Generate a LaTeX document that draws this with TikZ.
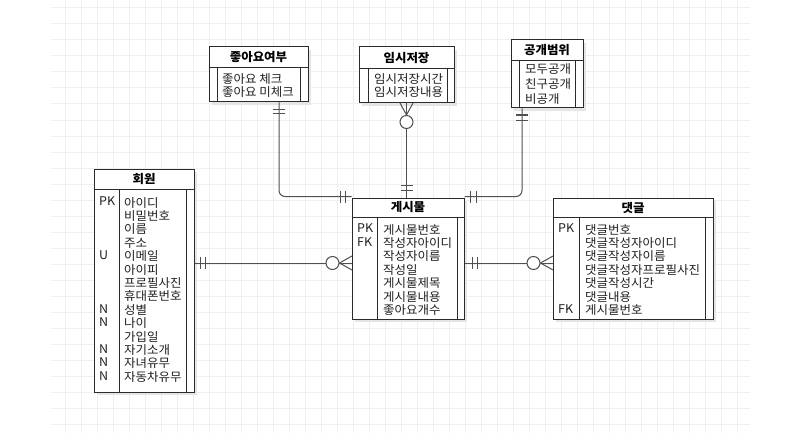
\documentclass[tikz,border=0pt]{standalone}
\usepackage{fontspec}
\setmainfont{Noto Sans CJK KR}[FakeStretch=1.04]
\usetikzlibrary{shadows}
\definecolor{gridc}{HTML}{EFEFEF}
\definecolor{linec}{HTML}{2B2B2B}
\definecolor{connc}{HTML}{505050}
\begin{document}
\begin{tikzpicture}[x=1pt,y=-1pt,
 tbl/.style={draw=linec, line width=1pt, fill=white, inner sep=0pt,
   drop shadow={shadow xshift=3pt, shadow yshift=-3pt, fill=black!10, opacity=1}},
 hdr/.style={font=\bfseries\fontsize{12}{13.4}\selectfont, inner sep=0pt, text=black},
 cell/.style={font=\fontsize{12}{13.4}\selectfont, align=left, anchor=north west, inner sep=0pt, text=black!88},
 sep/.style={draw=linec, line width=1pt},
 conn/.style={draw=connc, line width=1pt},
 mk/.style={draw=connc, line width=1pt},
 ring/.style={circle, draw=connc, line width=1pt, fill=white, minimum size=13pt, inner sep=0pt}]
\useasboundingbox (0,0) rectangle (786,441);
\fill[white] (0,0) rectangle (786,441);
% grid
\foreach \x in {65,81,...,737} \draw[gridc, line width=1pt] (\x,0) -- (\x,433);
\foreach \y in {8,24,...,424} \draw[gridc, line width=1pt] (51,\y) -- (750,\y);

% ---- tables ----
\node[tbl, minimum width=99pt, minimum height=55pt] (like) at (258.5,74.5) {};
\node[tbl, minimum width=95pt, minimum height=56pt] (temp) at (406.5,75) {};
\node[tbl, minimum width=72pt, minimum height=68pt] (scope) at (547,74) {};
\node[tbl, minimum width=100pt, minimum height=223pt] (mem) at (144,280.5) {};
\node[tbl, minimum width=112pt, minimum height=121pt] (post) at (408,258.5) {};
\node[tbl, minimum width=160pt, minimum height=121pt] (cmt) at (633,258.5) {};

% header separators and inner columns
\draw[sep] (like.west |- 0,68) -- (like.east |- 0,68);
\draw[sep] (217,68) -- (217,102); \draw[sep] (300,68) -- (300,102);
\draw[sep] (temp.west |- 0,69) -- (temp.east |- 0,69);
\draw[sep] (368,69) -- (368,103); \draw[sep] (447,69) -- (447,103);
\draw[sep] (scope.west |- 0,61) -- (scope.east |- 0,61);
\draw[sep] (519,61) -- (519,108); \draw[sep] (575,61) -- (575,108);
\draw[sep] (mem.west |- 0,189) -- (mem.east |- 0,189);
\draw[sep] (119,189) -- (119,392); \draw[sep] (186,189) -- (186,392);
\draw[sep] (post.west |- 0,217) -- (post.east |- 0,217);
\draw[sep] (377,217) -- (377,319); \draw[sep] (457,217) -- (457,319);
\draw[sep] (cmt.west |- 0,217) -- (cmt.east |- 0,217);
\draw[sep] (579,217) -- (579,319); \draw[sep] (705,217) -- (705,319);

% headers
\node[hdr] (hlike) at (258.5,57.5) {좋아요여부};
\node[hdr] (htemp) at (406.5,58) {임시저장};
\node[hdr] (hscope) at (547,50.5) {공개범위};
\node[hdr] (hmem) at (144,179) {회원};
\node[hdr] (hpost) at (408,207.5) {게시물};
\node[hdr] (hcmt) at (633,207.5) {댓글};

% rows
\node[cell] (flike) at (222,73) {좋아요 체크\\좋아요 미체크};
\node[cell] (ftemp) at (374,73) {임시저장시간\\임시저장내용};
\node[cell, font=\fontsize{12}{15}\selectfont] (fscope) at (525,63) {모두공개\\친구공개\\비공개};
\node[cell] (kmem) at (99,197) {PK\\\mbox{}\\\mbox{}\\\mbox{}\\U\\\mbox{}\\\mbox{}\\\mbox{}\\N\\N\\\mbox{}\\N\\N\\N};
\node[cell] (fmem) at (124,197) {아이디\\비밀번호\\이름\\주소\\이메일\\아이피\\프로필사진\\휴대폰번호\\성별\\나이\\가입일\\자기소개\\자녀유무\\자동차유무};
\node[cell] (kpost) at (357,224) {PK\\FK};
\node[cell] (fpost) at (383,224) {게시물번호\\작성자아이디\\작성자이름\\작성일\\게시물제목\\게시물내용\\좋아요개수};
\node[cell] (kcmt) at (558,224) {PK\\\mbox{}\\\mbox{}\\\mbox{}\\\mbox{}\\\mbox{}\\FK};
\node[cell] (fcmt) at (585,224) {댓글번호\\댓글작성자아이디\\댓글작성자이름\\댓글작성자프로필사진\\댓글작성시간\\댓글내용\\게시물번호};

% ---- connectors ----
% 좋아요여부 -> 게시물
\draw[conn, rounded corners=6pt] ([xshift=20.5pt]like.south) |- ([yshift=1pt]post.north west);
\draw[mk] (273,110) -- (285,110); \draw[mk] (273,114) -- (285,114);
\draw[mk] (340,191) -- (340,203); \draw[mk] (345,191) -- (345,203);
% 임시저장 -> 게시물
\draw[conn] (temp.south) -- (temp.south |- post.north);
\node[ring] (r0) at (406.5,122) {};
\draw[mk] (r0.north) -- (400,103); \draw[mk] (r0.north) -- (413,103);
\draw[mk] (400.5,185) -- (412.5,185); \draw[mk] (400.5,190) -- (412.5,190);
% 공개범위 -> 게시물
\draw[conn, rounded corners=6pt] ([xshift=-25pt]scope.south) |- ([yshift=1pt]post.north east);
\draw[mk] (516,115) -- (528,115); \draw[mk] (516,120) -- (528,120);
\draw[mk] (470,191) -- (470,203); \draw[mk] (476,191) -- (476,203);
% 회원 -> 게시물
\draw[conn] (mem.east |- 0,263) -- (post.west |- 0,263);
\draw[mk] (200,257) -- (200,269); \draw[mk] (205,257) -- (205,269);
\node[ring] (r1) at (332.5,263) {};
\draw[mk] (r1.east) -- (352,256); \draw[mk] (r1.east) -- (352,270);
% 게시물 -> 댓글
\draw[conn] (post.east |- 0,263) -- (cmt.west |- 0,263);
\draw[mk] (472,257) -- (472,269); \draw[mk] (477,257) -- (477,269);
\node[ring] (r2) at (533.5,263) {};
\draw[mk] (r2.east) -- (553,256); \draw[mk] (r2.east) -- (553,270);
\end{tikzpicture}
\end{document}
